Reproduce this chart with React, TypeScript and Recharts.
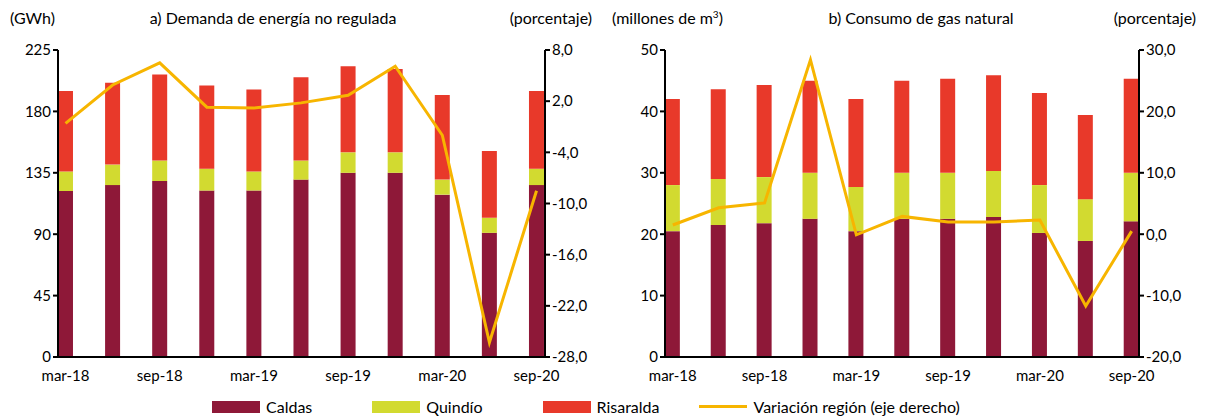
import React from 'react';
import { ComposedChart, Bar, Line, XAxis, YAxis } from 'recharts';

const categories = ['mar-18','jun-18','sep-18','dic-18','mar-19','jun-19','sep-19','dic-19','mar-20','jun-20','sep-20'];
const labelsShown = ['mar-18','sep-18','mar-19','sep-19','mar-20','sep-20'];
const enCaldas = [121.7,126,129,122,122,130,135,135,119,91,126];
const enQuindio = [14.3,15,15,16,14,14,15,15,11,11,12];
const enRisaralda = [59,60,63,61,60,61,63,61,62,49,57];
const enVar = [-0.6,3.9,6.5,1.3,1.2,1.8,2.7,6.1,-2.0,-26.3,-8.5];
const gasCaldas = [20.5,21.5,21.8,22.5,20.5,22.5,22.5,22.8,20.2,18.9,22.1];
const gasQuindio = [7.5,7.5,7.5,7.5,7.2,7.5,7.5,7.5,7.8,6.8,7.9];
const gasRisaralda = [14,14.6,15,15,14.3,15,15.3,15.6,15,13.7,15.3];
const gasVar = [1.5,4.3,5.1,28.4,-0.1,2.9,2.0,2.0,2.3,-11.7,0.5];

const C1 = '#8E1838', C2 = '#D2DA30', C3 = '#E8392A', CL = '#F7B500';
const font = 'Lato, "Open Sans", sans-serif';

const enData = categories.map((c, i) => ({ i, c, a: enCaldas[i], b: enQuindio[i], r: enRisaralda[i], v: enVar[i] }));
const gasData = categories.map((c, i) => ({ i, c, a: gasCaldas[i], b: gasQuindio[i], r: gasRisaralda[i], v: gasVar[i] }));
const fmt = (v: number) => v.toFixed(1).replace('.', ',');
const tick = { fill: '#000', fontSize: 15, fontFamily: font };
const xTick = (props: any) => {
  const { x, y, payload } = props;
  const lab = categories[payload.value];
  if (!labelsShown.includes(lab)) return null;
  return <text x={x} y={y + 16} textAnchor="middle" {...tick}>{lab}</text>;
};

function Panel({ data, left, width, rightW, mr, xDom, lDom, lTicks, rDom, rTicks }: any) {
  return (
    <div style={{ position: 'absolute', left, top: 0 }}>
      <ComposedChart width={width} height={390} data={data} margin={{ top: 50, left: 7, right: mr, bottom: 3 }}>
        <XAxis dataKey="i" type="number" domain={xDom} ticks={[0,2,4,6,8,10]} tick={xTick} height={30} stroke="#000" strokeWidth={2} tickLine={false} allowDataOverflow />
        <YAxis yAxisId="l" domain={lDom} ticks={lTicks} width={50} tick={tick} stroke="#000" strokeWidth={2} tickSize={5} />
        <YAxis yAxisId="r" orientation="right" domain={rDom} ticks={rTicks} tickFormatter={fmt} width={rightW} tick={tick} stroke="#000" strokeWidth={2} tickSize={5} />
        <Bar yAxisId="l" dataKey="a" stackId="s" fill={C1} barSize={15} isAnimationActive={false} />
        <Bar yAxisId="l" dataKey="b" stackId="s" fill={C2} barSize={15} isAnimationActive={false} />
        <Bar yAxisId="l" dataKey="r" stackId="s" fill={C3} barSize={15} isAnimationActive={false} />
        <Line yAxisId="r" dataKey="v" stroke={CL} strokeWidth={3} dot={false} isAnimationActive={false} />
      </ComposedChart>
    </div>
  );
}

const T = ({ x, y, children, anchor = 'start' }: any) => (
  <div style={{ position: 'absolute', left: x, top: y, fontSize: 16, fontFamily: font, whiteSpace: 'nowrap',
    transform: anchor === 'middle' ? 'translateX(-50%)' : anchor === 'end' ? 'translateX(-100%)' : undefined }}>{children}</div>
);

export default function App() {
  return (
    <div style={{ position: 'absolute', left: 0, top: 0, width: 1208, height: 418, background: '#fff' }}>
      <Panel data={enData} left={1} width={600} rightW={56} mr={0} xDom={[-0.16, 10.18]} lDom={[0, 225]} lTicks={[0,45,90,135,180,225]} rDom={[-28, 8]} rTicks={[-28,-22,-16,-10,-4,2,8]} />
      <Panel data={gasData} left={608} width={600} rightW={60} mr={9} xDom={[-0.17, 10.16]} lDom={[0, 50]} lTicks={[0,10,20,30,40,50]} rDom={[-20, 30]} rTicks={[-20,-10,0,10,20,30]} />
      <T x={10} y={8}>(GWh)</T>
      <T x={273} y={8} anchor="middle">a) Demanda de energía no regulada</T>
      <T x={592} y={8} anchor="end">(porcentaje)</T>
      <T x={612} y={8}>(millones de m<sup style={{ fontSize: 10 }}>3</sup>)</T>
      <T x={921} y={8} anchor="middle">b) Consumo de gas natural</T>
      <T x={1196} y={8} anchor="end">(porcentaje)</T>
      <div style={{ position: 'absolute', left: 212, top: 397, display: 'flex', alignItems: 'center', fontFamily: font, fontSize: 16 }}>
        <span style={{ width: 48, height: 12, background: C1, marginRight: 6 }} /><span style={{ marginRight: 60 }}>Caldas</span>
        <span style={{ width: 48, height: 12, background: C2, marginRight: 6 }} /><span style={{ marginRight: 60 }}>Quindío</span>
        <span style={{ width: 48, height: 12, background: C3, marginRight: 6 }} /><span style={{ marginRight: 40 }}>Risaralda</span>
        <span style={{ width: 48, height: 3, background: CL, marginRight: 6 }} /><span>Variación región (eje derecho)</span>
      </div>
    </div>
  );
}
